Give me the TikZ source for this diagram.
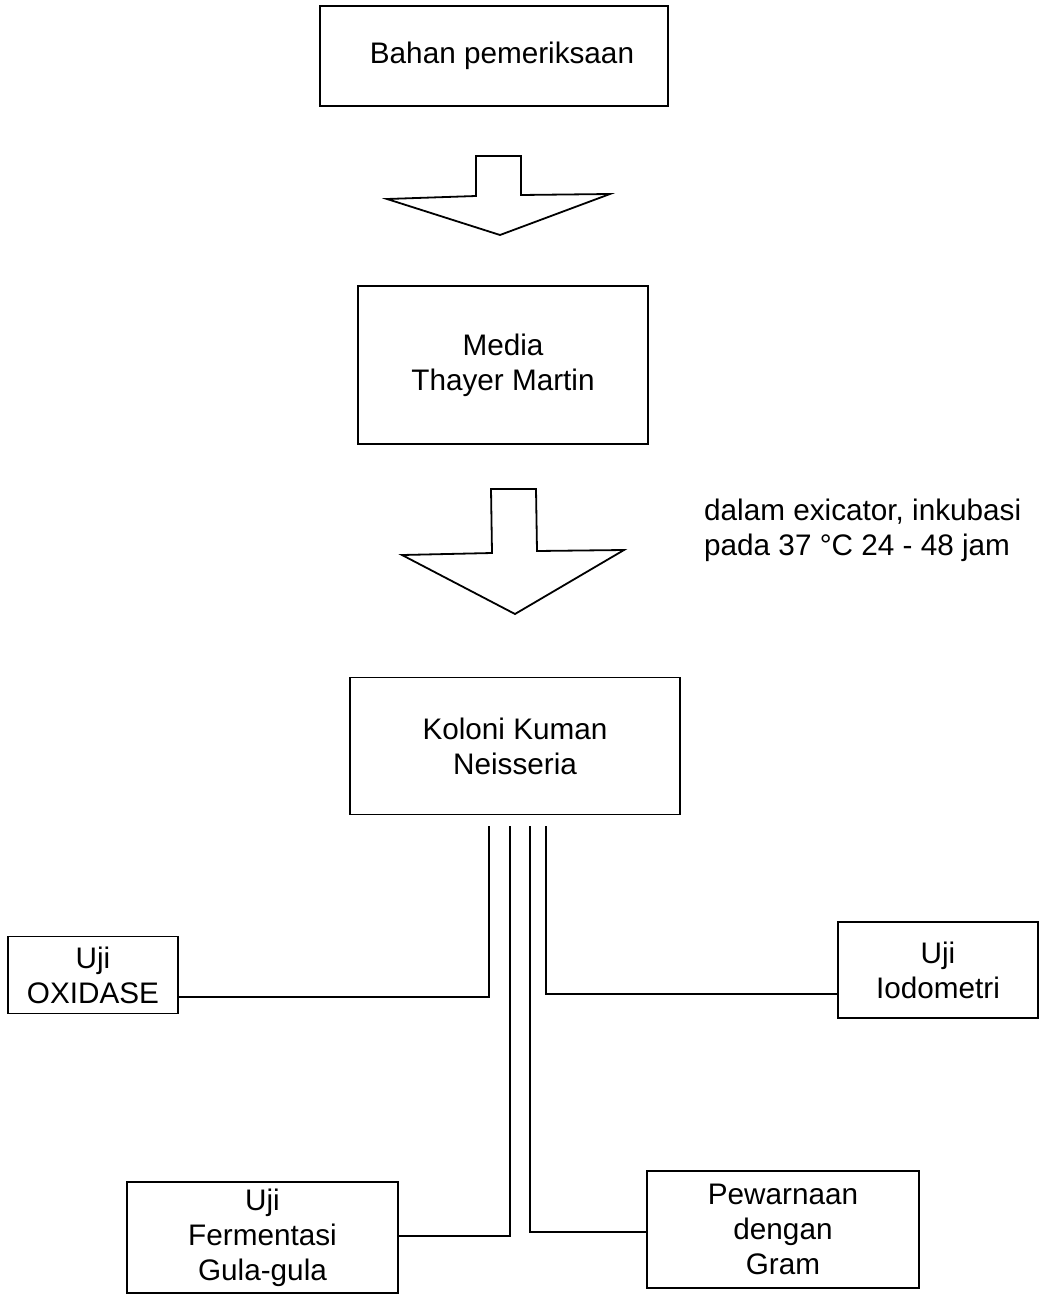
\documentclass[tikz,border=0pt]{standalone}
\usepackage{fontspec}
\setmainfont{Liberation Sans}
\begin{document}
\begin{tikzpicture}[x=1pt,y=-1pt,
  box/.style={draw, line width=1.8pt, inner sep=0pt, align=center,
    font=\fontsize{29.7}{35}\selectfont},
  link/.style={line width=1.7pt},
  blockarrow/.style={draw, line width=1.8pt, line join=miter, fill=white},
  note/.style={inner sep=0pt, align=left, font=\fontsize{29.7}{35}\selectfont}]
\useasboundingbox[fill=white] (0,0) rectangle (1047,1295);

% main chain of boxes
\node[box, minimum width=348pt, minimum height=100pt] (bahan) at (494,56) {\hspace*{16pt}Bahan pemeriksaan};
\node[box, minimum width=290pt, minimum height=158pt] (media) at (503,365) {Media\\Thayer Martin};
\node[box, minimum width=330pt, minimum height=137pt] (koloni) at (515,746) {Koloni Kuman\\Neisseria};

% test boxes
\node[box, minimum width=170pt, minimum height=77pt] (oxi) at (93,975) {Uji\\OXIDASE};
\node[box, minimum width=200pt, minimum height=96pt] (iodo) at (938,970) {Uji\\Iodometri};
\node[box, minimum width=271pt, minimum height=111pt] (ferm) at (262.5,1237.5) {Uji\\Fermentasi\\Gula-gula};
\node[box, minimum width=272pt, minimum height=117pt] (gram) at (783,1229.5) {Pewarnaan\\dengan\\Gram};

% block arrows between the first boxes
\draw[blockarrow] (476,196) -- (476,156) -- (521,156) -- (521,195) -- (610,194)
  -- (500,235) -- (387,199) -- cycle;
\draw[blockarrow] (492,553) -- (491,489) -- (536,489) -- (537,551) -- (624,550)
  -- (515,614) -- (402,555) -- cycle;

% incubation note
\node[note, anchor=west] (inkubasi) at (704,530) {dalam exicator, inkubasi\\pada 37 °C 24 - 48 jam};

% four parallel branch lines leaving the colony box
\coordinate (ta) at (489,826);
\coordinate (tb) at (510,826);
\coordinate (tc) at (530,826);
\coordinate (td) at (546,826);
\coordinate (oxin) at (oxi.east |- 0,997);
\coordinate (ioin) at (iodo.west |- 0,994);
\coordinate (fein) at (ferm.east |- 0,1236);
\coordinate (grin) at (gram.west |- 0,1232);

\draw[link] (ta) -- (ta |- oxin) -- (oxin);
\draw[link] (td) -- (td |- ioin) -- (ioin);
\draw[link] (tb) -- (tb |- fein) -- (fein);
\draw[link] (tc) -- (tc |- grin) -- (grin);
\end{tikzpicture}
\end{document}
